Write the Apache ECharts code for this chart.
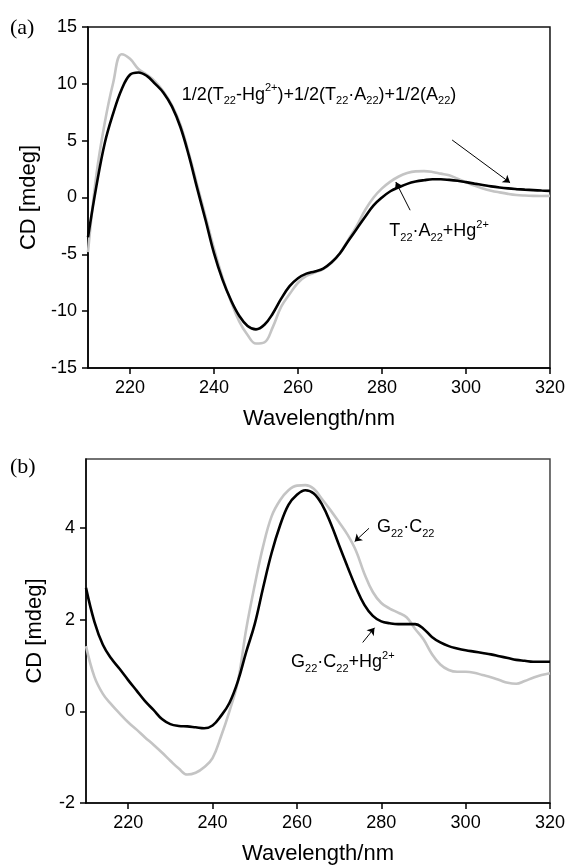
<!DOCTYPE html>
<html>
<head>
<meta charset="utf-8">
<script src="https://cdn.jsdelivr.net/npm/echarts@6/dist/echarts.min.js"></script>
<style>
  html, body { margin: 0; padding: 0; background: #fff; }
  #main { width: 568px; height: 868px; }
</style>
</head>
<body>
<div id="main"></div>
<script>
// wavelengths (nm), shared by all four curves
let wavelength = [210,212,214,216,218,220,222,224,226,228,230,232,234,236,238,240,242,244,246,248,
  250,252,254,256,258,260,262,264,266,268,270,272,274,276,278,280,282,284,286,288,
  290,292,294,296,298,300,302,304,306,308,310,312,314,316,318,320];

// panel (a)
let aMix = [-3.5,1.0,4.8,7.4,9.5,10.8,11.0,10.7,10.0,9.2,8.0,6.2,3.7,0.8,-2.0,-4.9,-7.2,-9.0,-10.4,-11.3,
  -11.6,-11.2,-10.2,-8.9,-7.8,-7.1,-6.7,-6.5,-6.25,-5.7,-4.9,-3.8,-2.75,-1.7,-0.7,0.0,0.55,0.9,1.2,1.4,
  1.52,1.6,1.6,1.55,1.47,1.35,1.22,1.1,0.98,0.88,0.8,0.74,0.69,0.65,0.61,0.58];
let aHg = [-4.8,2.0,6.6,10.1,12.6,12.2,11.3,10.8,10.2,9.3,8.1,6.4,3.9,1.1,-1.7,-4.5,-7.0,-9.1,-10.9,-12.1,
  -12.85,-12.75,-11.4,-9.6,-8.5,-7.5,-6.9,-6.6,-6.3,-5.75,-4.9,-3.7,-2.5,-1.1,0.0,0.8,1.4,1.85,2.15,2.3,
  2.32,2.25,2.1,1.95,1.65,1.35,1.05,0.8,0.6,0.45,0.32,0.22,0.17,0.14,0.13,0.14];

// panel (b)
let bHg = [2.69,1.95,1.45,1.15,0.92,0.68,0.45,0.22,0.03,-0.17,-0.28,-0.32,-0.33,-0.35,-0.37,-0.31,-0.1,0.18,0.65,1.3,
  1.9,2.7,3.45,4.05,4.5,4.72,4.82,4.75,4.5,4.1,3.62,3.15,2.7,2.32,2.08,1.96,1.92,1.9,1.9,1.9,
  1.8,1.62,1.5,1.42,1.37,1.33,1.3,1.27,1.24,1.2,1.16,1.12,1.1,1.08,1.08,1.08];
let bGC = [1.42,0.75,0.38,0.15,-0.05,-0.24,-0.4,-0.57,-0.73,-0.9,-1.08,-1.25,-1.38,-1.34,-1.22,-1.02,-0.55,0.0,0.65,1.8,
  2.75,3.6,4.25,4.6,4.82,4.92,4.93,4.85,4.62,4.38,4.12,3.85,3.5,3.0,2.6,2.36,2.24,2.15,2.05,1.8,
  1.57,1.25,1.02,0.9,0.86,0.86,0.84,0.79,0.74,0.68,0.62,0.6,0.66,0.73,0.79,0.83];

let xTicks = [220, 240, 260, 280, 300, 320];
let bTicks = [-2, 0, 2, 4];

const FONT = "'Liberation Sans', Arial, sans-serif";
const SERIF = "'Liberation Serif', 'Times New Roman', serif";

function pairs(ys) {
    return wavelength.map(function (x, i) { return [x, ys[i]]; });
}

function xAxisOf(g) {
    return {
        gridIndex: g, type: 'value', min: 210, max: 320,
        axisLine: { onZero: false, lineStyle: { color: '#000', width: 1.5 } },
        axisTick: { length: 6, customValues: xTicks, lineStyle: { color: '#000', width: 1.5 } },
        axisLabel: { customValues: xTicks, fontSize: 18, color: '#000', fontFamily: FONT, margin: 11 },
        splitLine: { show: false },
        name: 'Wavelength/nm', nameLocation: 'middle', nameGap: 40,
        nameTextStyle: { fontSize: 22, color: '#000', fontFamily: FONT }
    };
}

function arrows(list) {
    return {
        silent: true, symbol: ['none', 'arrow'], symbolSize: 7,
        label: { show: false }, emphasis: { disabled: true },
        lineStyle: { color: '#000', width: 1, type: 'solid' },
        itemStyle: { color: '#000' },
        data: list.map(function (a) { return [{ coord: a[0] }, { coord: a[1] }]; })
    };
}

let chart = echarts.init(document.getElementById('main'));

let option = {
    animation: false,
    backgroundColor: '#fff',
    grid: [
        { left: 88, right: 18, top: 27, height: 341, show: true, borderColor: '#111', borderWidth: 1.5, backgroundColor: 'transparent' },
        { left: 86, right: 15, top: 459, height: 344, show: true, borderColor: '#444', borderWidth: 1.5, backgroundColor: 'transparent' }
    ],
    xAxis: [xAxisOf(0), xAxisOf(1)],
    yAxis: [
        {
            gridIndex: 0, type: 'value', min: -15, max: 15, interval: 5,
            axisLine: { show: true, onZero: false, lineStyle: { color: '#000', width: 1.5 } },
            axisTick: { show: true, length: 6, lineStyle: { color: '#000', width: 1.5 } },
            axisLabel: { fontSize: 18, color: '#000', fontFamily: FONT, margin: 11 },
            splitLine: { show: false },
            name: 'CD [mdeg]', nameLocation: 'middle', nameGap: 40,
            nameTextStyle: { fontSize: 22, color: '#000', fontFamily: FONT }
        },
        {
            gridIndex: 1, type: 'value', min: -2, max: 5.5,
            axisLine: { show: true, onZero: false, lineStyle: { color: '#000', width: 1.5 } },
            axisTick: { show: true, length: 6, customValues: bTicks, lineStyle: { color: '#000', width: 1.5 } },
            axisLabel: { customValues: bTicks, fontSize: 18, color: '#000', fontFamily: FONT, margin: 11 },
            splitLine: { show: false },
            name: 'CD [mdeg]', nameLocation: 'middle', nameGap: 40,
            nameTextStyle: { fontSize: 22, color: '#000', fontFamily: FONT }
        }
    ],
    series: [
        {
            name: 'T22·A22+Hg2+', type: 'line', xAxisIndex: 0, yAxisIndex: 0, data: pairs(aHg),
            showSymbol: false, smooth: 0.4, lineStyle: { color: '#c4c4c4', width: 2.6 }
        },
        {
            name: 'mix', type: 'line', xAxisIndex: 0, yAxisIndex: 0, data: pairs(aMix),
            showSymbol: false, smooth: 0.4, lineStyle: { color: '#000', width: 2.6 },
            markLine: arrows([
                [[296.7, 5.06], [310.5, 1.3]],
                [[286.7, -1.12], [283.3, 1.36]]
            ])
        },
        {
            name: 'G22·C22', type: 'line', xAxisIndex: 1, yAxisIndex: 1, data: pairs(bGC),
            showSymbol: false, smooth: 0.4, lineStyle: { color: '#c4c4c4', width: 2.6 }
        },
        {
            name: 'G22·C22+Hg2+', type: 'line', xAxisIndex: 1, yAxisIndex: 1, data: pairs(bHg),
            showSymbol: false, smooth: 0.4, lineStyle: { color: '#000', width: 2.6 },
            markLine: arrows([
                [[277.1, 3.99], [273.7, 3.7]],
                [[275.6, 1.5], [278.4, 1.82]]
            ])
        }
    ]
};
chart.setOption(option);

// annotation texts (data coordinates of their centres)
let notes = [
    { grid: 0, at: [265, 9.2], text: '1/2(T{sub|22}-Hg{sup|2+})+1/2(T{sub|22}·A{sub|22})+1/2(A{sub|22})' },
    { grid: 0, at: [293.6, -2.8], text: 'T{sub|22}·A{sub|22}+Hg{sup|2+}' },
    { grid: 1, at: [285.8, 4.06], text: 'G{sub|22}·C{sub|22}' },
    { grid: 1, at: [270.9, 1.11], text: 'G{sub|22}·C{sub|22}+Hg{sup|2+}' }
];

let rich = {
    sub: { fontSize: 11, fontFamily: FONT, fill: '#000', verticalAlign: 'bottom', lineHeight: 11 },
    sup: { fontSize: 11, fontFamily: FONT, fill: '#000', verticalAlign: 'top', lineHeight: 11 }
};

let graphics = notes.map(function (n) {
    let p = chart.convertToPixel({ gridIndex: n.grid }, n.at);
    return {
        type: 'text', x: p[0], y: p[1] + 2,
        style: {
            text: n.text, rich: rich, fontSize: 18, lineHeight: 24, fontFamily: FONT, fill: '#000',
            align: 'center', verticalAlign: 'middle'
        }
    };
});
graphics.push({ type: 'text', left: 10, top: 17, style: { text: '(a)', fontSize: 22, fontFamily: SERIF, fill: '#000' } });
graphics.push({ type: 'text', left: 10, top: 456, style: { text: '(b)', fontSize: 22, fontFamily: SERIF, fill: '#000' } });

chart.setOption({ graphic: graphics });
</script>
</body>
</html>
